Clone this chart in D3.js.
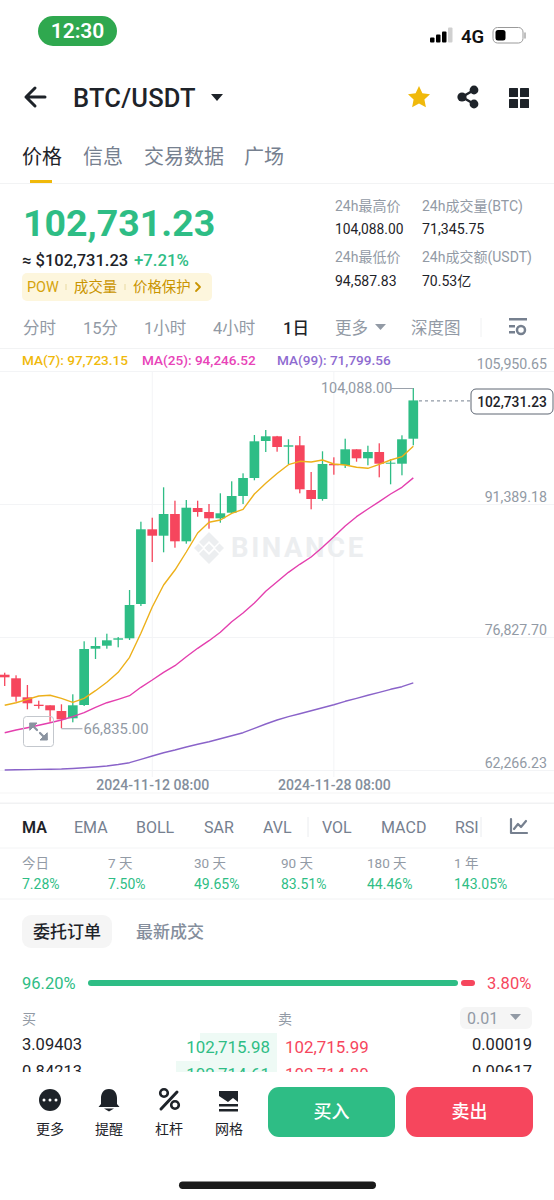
<!DOCTYPE html>
<html><head><meta charset="utf-8">
<script src="https://cdn.jsdelivr.net/npm/d3@7/dist/d3.min.js"></script>
<style>html,body{margin:0;padding:0;background:#fff}svg{display:block}text{font-family:Roboto,"Noto Sans CJK SC",sans-serif}</style>
</head><body><svg id="c" width="554" height="1200" viewBox="0 0 554 1200"></svg>
<script>
const opens=[72700,72306,70225,69415,69350,68726,67926,69383,75547,75875,76532,76685,80441,88619,87918,90294,87305,90951,90513,89823,90436,92265,94236,98287,98801,97663,97816,92922,91936,95768,95659,97378,96392,97082,95801,95801,98538];
const highs=[72919,72634,71572,69853,69350,69459,70554,76357,76795,77189,76828,81973,89451,89889,93217,91750,91827,91750,91389,92561,93874,94750,98943,99491,98845,98473,98834,94893,97159,96502,98538,97378,97772,98035,96283,98911,104088];
const lows=[71463,69744,68912,68977,67554,66835,67488,69273,74419,75547,75700,76499,80222,85039,86101,86604,87042,89999,88685,89342,90371,91389,93984,97082,97115,95736,92561,90808,91750,94597,95330,96020,95626,94312,93546,94531,97816];
const closes=[72415,70291,69569,69273,68802,67817,69350,75514,75842,76466,76685,80331,88619,87918,90294,87305,90984,90513,89823,90371,92265,94236,98254,98801,97630,97816,92998,91936,95768,95626,97378,96392,97082,95801,95911,98473,102731.23];
const ma7=[69350,69634,70007,70368,70445,70116,69678,70116,70948,71868,72963,74605,77233,80112,82521,84163,86134,88214,89385,89637,90371,90808,92484,93655,94728,95692,96064,95987,96206,95768,95659,95407,95297,95736,96206,96568,97723.15];
const ma25=[66350,66645,66897,67160,67445,67740,68102,68539,69131,69634,70007,70401,71320,72120,72963,73685,74671,75590,76422,77342,78503,79455,80550,81831,82882,83911,84787,85586,86648,87809,88980,89999,90842,91641,92484,93217,94246.52];
const ma99=[62266,62288,62310,62332,62354,62375,62430,62507,62595,62704,62868,63065,63437,63799,64160,64456,64784,65080,65364,65693,66021,66350,66832,67302,67740,68102,68430,68758,69087,69415,69788,70116,70445,70773,71101,71386,71799.56];
const priceTicks=[105950.65,91389.18,76827.70,62266.23];
const dateTicks=[13,29];
const dateLabels=["2024-11-12 08:00","2024-11-28 08:00"];
const fmt=d3.format(",.2f");
const GREEN="#2ebd85",RED="#f6465d",GRAY="#929aa5",DARK="#1e2329";
const svg=d3.select("#c");
const T=(x,y,s,size,fill,opt={})=>svg.append("text").attr("x",x).attr("y",y).attr("font-size",size).attr("fill",fill).attr("font-weight",opt.w||400).attr("text-anchor",opt.a||"start").attr("clip-path",opt.clip||null).attr("letter-spacing",opt.ls||null).text(s);
const R=(x,y,w,h,f,r=0)=>svg.append("rect").attr("x",x).attr("y",y).attr("width",w).attr("height",h).attr("fill",f).attr("rx",r);
const L=(x1,y1,x2,y2,c,w=1)=>svg.append("line").attr("x1",x1).attr("y1",y1).attr("x2",x2).attr("y2",y2).attr("stroke",c).attr("stroke-width",w);
const P=(d,f,s,w)=>svg.append("path").attr("d",d).attr("fill",f||"none").attr("stroke",s||"none").attr("stroke-width",w||0).attr("stroke-linejoin","round").attr("stroke-linecap","round");

/* status bar */
R(38,16,79,30,"#2fa84f",15);
T(77.5,37.500,"12:30",21,"#fff",{w:600,a:"middle"});
[[430,5],[436,8],[442,11],[448,15]].forEach(([x,h],i)=>R(x,42.5-h,4.5,h,i==3?"#d0d0d0":"#000",1));
T(461,42.500,"4G",18.500,"#111",{w:600});
svg.append("rect").attr("x",493).attr("y",27.5).attr("width",30).attr("height",15.5).attr("rx",4.5).attr("fill","#fff").attr("stroke","#9a9a9a");
R(495.5,30,10,10.5,"#000",2.5);
P("M525 33v5",null,"#aaa",1.5);

/* header */
P("M45 97H26M35 88l-9 9 9 9",null,DARK,3);
T(73,107,"BTC/USDT",25.500,DARK,{w:500,ls:.2});
P("M211 94h12l-6 7z",DARK);
P("M419 86l3.4 7.2 7.6 1-5.6 5.3 1.5 7.7-6.9-3.8-6.9 3.8 1.5-7.7-5.6-5.3 7.6-1z","#f0b90b");
P("M474 90l-12 7 12 7",null,DARK,2.6);
svg.selectAll(null).data([[474,90,4.4],[462,97,4.6],[474,104,4.4]]).join("circle").attr("cx",d=>d[0]).attr("cy",d=>d[1]).attr("r",d=>d[2]).attr("fill",DARK);
[[509,88],[520,88],[509,99],[520,99]].forEach(([x,y])=>R(x,y,9,9,DARK,.5));

/* tabs */
[["价格",22,DARK],["信息",83,"#76808f"],["交易数据",144,"#76808f"],["广场",244,"#76808f"]].forEach(([s,x,c])=>T(x,164,s,20,c));
R(30,180,22,3.5,"#f0b90b");
L(0,183.5,554,183.5,"#f2f3f4");

/* price */
T(23,236,fmt(closes[closes.length-1]),37.500,GREEN,{w:700});
T(22,266,"≈ $102,731.23",16.500,DARK,{w:500});
T(134,266,"+7.21%",16.800,GREEN,{w:500});
R(22,273,190,28,"#fdf6dd",5);
T(27,292,"POW",14.400,"#d5a30c");T(74,292,"成交量",14.400,"#c99400");T(133,292,"价格保护",14.400,"#c99400");
L(66,284,66,290,"#e8d9a0");L(125,284,125,290,"#e8d9a0");
P("M196 283l4 4-4 4",null,"#c99400",1.8);
T(335,211,"24h最高价",14,GRAY);T(422,211,"24h成交量(BTC)",14,GRAY);
T(335,234,"104,088.00",13.800,DARK);T(422,234,"71,345.75",14.200,DARK);
T(335,262,"24h最低价",14,GRAY);T(422,262,"24h成交额(USDT)",14,GRAY);
T(335,286,"94,587.83",14,DARK);T(422,286,"70.53亿",14,DARK);

/* interval row */
[["分时",23],["15分",83],["1小时",144],["4小时",213],["更多",335],["深度图",411]].forEach(([s,x])=>T(x,334,s,16.5,GRAY));
T(283,334,"1日",16.5,DARK,{w:500});
P("M375 324h11l-5.5 6z",GRAY);
L(481,318,481,337,"#f0f1f2");
R(509,318,18,2.5,"#76808f");R(509,325,6,2.5,"#76808f");R(509,331,6,2.5,"#76808f");
svg.append("circle").attr("cx",521).attr("cy",330).attr("r",4).attr("fill","none").attr("stroke","#76808f").attr("stroke-width",2.5);

/* MA legend */
L(0,348.5,554,348.5,"#f2f3f4");
T(22,365,"MA(7): "+fmt(ma7[36]),13.6,"#f0b90b",{w:500});
T(142,365,"MA(25): "+fmt(ma25[36]),13.6,"#e843b8",{w:500});
T(277,365,"MA(99): "+fmt(ma99[36]),13.6,"#8e6bd0",{w:500});

/* chart scales */
const x=d3.scaleLinear().domain([0,36]).range([4.7,413.3]);
const y=d3.scaleLinear().domain([62266.23,105950.65]).range([770,371]);
const idx=d3.range(closes.length);

/* grid */
const grid=svg.append("g").attr("stroke","#f3f4f6");
grid.selectAll("line.h").data(priceTicks).join("line").attr("x1",0).attr("x2",554).attr("y1",d=>y(d)+.5).attr("y2",d=>y(d)+.5);
grid.selectAll("line.v").data(dateTicks).join("line").attr("x1",d=>x(d)).attr("x2",d=>x(d)).attr("y1",y.range()[1]).attr("y2",777);

/* watermark */
const wm=svg.append("g").attr("fill","#eceef0");
wm.append("path").attr("d","M209 532l10 10-4.500 4.500-5.500-5.500-5.500 5.500-4.500-4.500zM194 548l4.500-4.500 4.500 4.500-4.500 4.500zM224 548l-4.500-4.500-4.500 4.500 4.500 4.500zM209 543.500l4.500 4.500-4.500 4.500-4.500-4.500zM209 564l-10-10 4.500-4.500 5.500 5.500 5.500-5.500 4.500 4.500z");
wm.append("text").attr("x",231).attr("y",557).attr("font-size",27.500).attr("font-weight",700).attr("letter-spacing",2.6).text("BINANCE");

/* axes */
const ay=svg.append("g").attr("transform","translate(547,0)").call(d3.axisRight(y).tickValues(priceTicks).tickFormat(fmt).tickSize(0).tickPadding(0));
ay.select(".domain").remove();
ay.selectAll("text").attr("text-anchor","end").attr("dy","-0.18em").attr("font-size",14.200).attr("fill",GRAY).attr("font-family",'Roboto,sans-serif');
const ax=svg.append("g").attr("transform","translate(0,780)").call(d3.axisBottom(x).tickValues(dateTicks).tickFormat((d,i)=>dateLabels[i]).tickSize(0).tickPadding(0));
ax.select(".domain").remove();
ax.selectAll("text").attr("font-size",14.100).attr("fill","#848e9c").attr("font-weight",500).attr("font-family",'Roboto,sans-serif');

/* candles */
const col=i=>closes[i]>=opens[i]?GREEN:RED;
svg.append("g").selectAll("rect").data(idx).join("rect").attr("x",i=>x(i)-.65).attr("width",1.3).attr("y",i=>y(highs[i])).attr("height",i=>y(lows[i])-y(highs[i])).attr("fill",col);
svg.append("g").selectAll("rect").data(idx).join("rect").attr("x",i=>x(i)-4.85).attr("width",9.7).attr("y",i=>y(Math.max(opens[i],closes[i]))).attr("height",i=>Math.max(1,Math.abs(y(opens[i])-y(closes[i])))).attr("fill",col);

/* MA lines */
[[ma99,"#8a63c9"],[ma25,"#e43fae"],[ma7,"#edb01a"]].forEach(([s,c])=>{
  svg.append("path").attr("d",d3.line().x((d,i)=>x(i)).y(d=>y(d))(s)).attr("fill","none").attr("stroke",c).attr("stroke-width",1.4).attr("stroke-linejoin","round");
});

/* extreme labels */
const hi=d3.max(highs),lo=d3.min(lows);
L(x(36),y(hi)+.5,x(36)-22,y(hi)+.5,"#9aa1ab");
T(x(36)-21,y(hi)+5,fmt(hi),14.400,GRAY,{a:"end"});
L(x(5),y(lo)+.5,x(5)+21,y(lo)+.5,"#9aa1ab");
T(x(5)+22,y(lo)+5.500,fmt(lo),14.800,GRAY);
/* last price */
svg.append("line").attr("x1",419).attr("x2",470).attr("y1",y(closes[36])+.5).attr("y2",y(closes[36])+.5).attr("stroke","#76808f").attr("stroke-dasharray","3 3");
svg.append("rect").attr("x",471).attr("y",389).attr("width",82).attr("height",25).attr("rx",5).attr("fill","#fff").attr("stroke","#5e6673");
T(512,406.5,fmt(closes[36]),13.800,DARK,{w:500,a:"middle"});
/* expand icon */
svg.append("rect").attr("x",23.5).attr("y",716.5).attr("width",30).attr("height",30).attr("rx",3).attr("fill","none").attr("stroke","#c3c7cd");
P("M30 723h7l-7 7zM47 740h-7l7-7z","#8a93a0","#8a93a0",1);
P("M33 726l4 4M44 737l-4-4",null,"#8a93a0",2.2);

/* separators */
L(0,793,554,793,"#f5f5f5");R(0,802.5,554,1.5,"#f1f2f3");

/* indicators */
T(22,833,"MA",16,DARK,{w:600});
[["EMA",74],["BOLL",136],["SAR",204],["AVL",263],["VOL",322],["MACD",381],["RSI",455]].forEach(([s,x])=>T(x,833,s,16,"#76808f"));
L(308,817,308,837,"#eaecef");L(481,817,481,837,"#eaecef");
P("M511 819v14h16M514 829l4-5 3 3 5-6",null,"#76808f",2.2);
L(0,848,554,848,"#f3f4f5");

/* period returns */
const periods=["今日","7 天","30 天","90 天","180 天","1 年"];
const returns=["7.28%","7.50%","49.65%","83.51%","44.46%","143.05%"];
const periodX=[22,108,194,281,367,454];
periods.forEach((s,i)=>{T(periodX[i],868,s,13.5,GRAY);T(periodX[i],889,returns[i],14,GREEN);});
L(0,899,554,899,"#f1f2f3");

/* order book */
R(22,915,90,33,"#f5f5f5",9);
T(67,938,"委托订单",17,DARK,{w:500,a:"middle"});
T(136,938,"最新成交",17,"#848e9c",{w:500});
T(22,989,"96.20%",16.500,GREEN);
R(88,980,370,6,GREEN,3);R(461,980,14,6,RED,3);
T(487,989,"3.80%",16.500,RED);
T(22,1024,"买",14,GRAY);T(278,1024,"卖",14,GRAY);
R(460,1007,72,22,"#f5f5f5",6);
T(467,1024,"0.01",16,GRAY);
P("M510 1014h11l-5.500 6z",GRAY);
svg.append("clipPath").attr("id","bk").append("rect").attr("x",0).attr("y",1030).attr("width",554).attr("height",42);
R(200,1033,77,28,"#eefaf5");
R(176,1061,101,11,"#eefaf5");
T(22,1050,"3.09403",16.5,DARK);
T(270,1053,"102,715.98",16.900,GREEN,{a:"end"});
T(285,1053,"102,715.99",16.900,RED);
T(532,1050,"0.00019",16.5,DARK,{a:"end"});
T(22,1077,"0.84213",16.5,DARK,{clip:"url(#bk)"});
T(270,1080,"102,714.61",16.900,GREEN,{a:"end",clip:"url(#bk)"});
T(285,1080,"102,714.80",16.900,RED,{clip:"url(#bk)"});
T(532,1077,"0.00617",16.5,DARK,{a:"end",clip:"url(#bk)"});

/* footer */
R(0,1072,554,128,"#fff");
svg.append("circle").attr("cx",50).attr("cy",1100).attr("r",11).attr("fill",DARK);
[44,50,56].forEach(cx=>svg.append("circle").attr("cx",cx).attr("cy",1100).attr("r",1.5).attr("fill","#fff"));
P("M109 1089c-6 0-8 5-8 9v6l-2.500 3h21l-2.500-3v-6c0-4-2-9-8-9zM104 1108.500h10l-5 3z",DARK);
P("M161 1109l16-17",null,DARK,3);
svg.append("circle").attr("cx",164).attr("cy",1093).attr("r",3.8).attr("fill","none").attr("stroke",DARK).attr("stroke-width",2.6);
svg.append("circle").attr("cx",175).attr("cy",1105).attr("r",3.8).attr("fill","none").attr("stroke",DARK).attr("stroke-width",2.6);
P("M219 1091h19v11l-5-4-5 4-9-6z",DARK);R(219,1104,19,2.5,DARK);R(219,1109,19,2.5,DARK);
[["更多",50],["提醒",109],["杠杆",169],["网格",229]].forEach(([s,x])=>T(x,1134,s,14,DARK,{a:"middle"}));
R(268,1087,127,50,GREEN,11);R(406,1087,127,50,RED,11);
T(331.500,1118,"买入",18,"#fff",{w:500,a:"middle"});
T(469.500,1118,"卖出",18,"#fff",{w:500,a:"middle"});
R(179,1181.500,197,7.500,"#1a1a1a",3.700);
</script></body></html>
